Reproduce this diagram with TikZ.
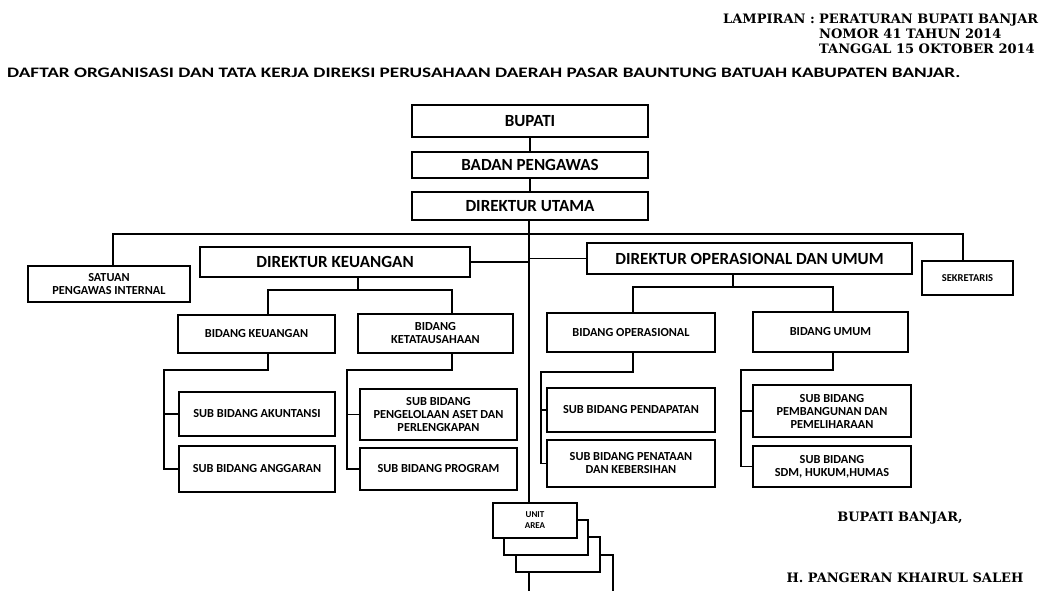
\documentclass[tikz,border=0pt]{standalone}
\usepackage{fontspec}
\setmainfont{Carlito}
\newfontfamily\hdfont{DejaVu Serif}
\usetikzlibrary{calc,positioning}

\begin{document}
\begin{tikzpicture}[x=1pt,y=-1pt]
          %% BAGAN ORGANISASI

          \tikzstyle{box}=[draw,line width=2.5pt,fill=white,align=center,inner sep=1pt,font=\bfseries\fontsize{12.3}{13}\selectfont]
          \tikzstyle{bigbox}=[box,font=\bfseries\fontsize{17}{18}\selectfont]
          \tikzstyle{unit}=[box,minimum width=84pt,minimum height=35pt,font=\bfseries\fontsize{9}{11}\selectfont]
          \tikzstyle{link}=[line width=1.3pt]
          \tikzstyle{hdr}=[inner sep=0pt,font=\hdfont\bfseries\fontsize{13}{15}\selectfont]

          \useasboundingbox (0,0) rectangle (1042,591);
          \clip (0,0) rectangle (1042,591);

          % kepala lampiran
          \node[hdr,anchor=base east] (LAM) at (815,24) {LAMPIRAN :};
          \node[hdr,anchor=base west] (H1) at (819,24) {PERATURAN BUPATI BANJAR};
          \node[hdr,anchor=base west] (H2) at (819,39) {NOMOR 41 TAHUN 2014};
          \node[hdr,anchor=base west] (H3) at (819,54) {TANGGAL 15 OKTOBER 2014};
          \node[anchor=base west,inner sep=0pt,font=\bfseries] (JUDUL) at (7,78)
              {\resizebox{953pt}{9.5pt}{DAFTAR ORGANISASI DAN TATA KERJA DIREKSI PERUSAHAAN DAERAH PASAR BAUNTUNG BATUAH KABUPATEN BANJAR.}};

          % pimpinan
          \node[bigbox,minimum width=236pt,minimum height=32pt] (BUP) at (530,121) {BUPATI};
          \node[bigbox,minimum width=236pt,minimum height=26pt] (BP) at (530,165) {BADAN PENGAWAS};
          \node[bigbox,minimum width=236pt,minimum height=28pt] (DU) at (530,206) {DIREKTUR UTAMA};

          % direktur
          \node[box,minimum width=162pt,minimum height=36pt] (SPI) at (109,284) {SATUAN\\PENGAWAS INTERNAL};
          \node[bigbox,minimum width=270pt,minimum height=30pt] (DK) at (335,262) {DIREKTUR KEUANGAN};
          \node[bigbox,minimum width=325pt,minimum height=31pt] (DO) at (749.5,258.5) {DIREKTUR OPERASIONAL DAN UMUM};
          \node[box,minimum width=91pt,minimum height=34pt,font=\bfseries\fontsize{10.5}{12}\selectfont] (SEK) at (967.5,278) {SEKRETARIS};

          % bidang
          \node[box,minimum width=157pt,minimum height=38pt] (BK) at (256.5,334) {BIDANG KEUANGAN};
          \node[box,minimum width=155pt,minimum height=39pt] (BT) at (435.5,333.5) {BIDANG\\KETATAUSAHAAN};
          \node[box,minimum width=168pt,minimum height=39pt] (BO) at (631,332.5) {BIDANG OPERASIONAL};
          \node[box,minimum width=155pt,minimum height=40pt] (BU) at (830.5,332) {BIDANG UMUM};

          % sub bidang
          \node[box,minimum width=156pt,minimum height=44pt] (SK1) at (257,414) {SUB BIDANG AKUNTANSI};
          \node[box,minimum width=156pt,minimum height=46pt] (SK2) at (257,469) {SUB BIDANG ANGGARAN};
          \node[box,minimum width=157pt,minimum height=51pt] (ST1) at (438.5,414.5) {SUB BIDANG\\PENGELOLAAN ASET DAN\\PERLENGKAPAN};
          \node[box,minimum width=157pt,minimum height=42pt] (ST2) at (438.5,469) {SUB BIDANG PROGRAM};
          \node[box,minimum width=168pt,minimum height=44pt] (SO1) at (631,410) {SUB BIDANG PENDAPATAN};
          \node[box,minimum width=168pt,minimum height=47pt] (SO2) at (631,463.5) {SUB BIDANG PENATAAN\\DAN KEBERSIHAN};
          \node[box,minimum width=158pt,minimum height=52pt] (SU1) at (832,411) {SUB BIDANG\\PEMBANGUNAN DAN\\PEMELIHARAAN};
          \node[box,minimum width=158pt,minimum height=41pt] (SU2) at (832,466.5) {SUB BIDANG\\SDM, HUKUM,HUMAS};

          % unit area
          \node[unit,minimum height=40pt] (UA4) at (571,575) {};
          \node[unit] (UA3) at (558,554.5) {};
          \node[unit] (UA2) at (546,537.5) {};
          \node[unit] (UA1) at (535,520.5) {UNIT\\AREA};

          % tanda tangan
          \node[hdr] (TTD1) at (900,518) {BUPATI BANJAR,};
          \node[hdr] (TTD2) at (905,578) {H. PANGERAN KHAIRUL SALEH};

          % garis
          \coordinate (T) at (529,234);
          \coordinate (BL) at (113,234);
          \coordinate (BR) at (963,234);
          \draw[link] (BUP.south) -- (BP.north);
          \draw[link] (BP.south) -- (DU.north);
          \draw[link] (T |- DU.south) -- (T |- UA1.north);
          \draw[link] (BL |- SPI.north) -- (BL) -- (BR) -- (BR |- SEK.north);
          \draw[link] (DK.east) -- (DK.east -| T);
          \draw[link] (DO.west) -- (DO.west -| T);

          % keuangan
          \coordinate (KJ) at (358,290);
          \coordinate (KA) at (268,290);
          \coordinate (KB) at (452,290);
          \draw[link] (KJ |- DK.south) -- (KJ);
          \draw[link] (KA |- BK.north) -- (KA) -- (KB) -- (KB |- BT.north);
          \coordinate (BKA) at (268,370);
          \coordinate (BKB) at (164,370);
          \draw[link] (BKA |- BK.south) -- (BKA) -- (BKB) |- (SK2.west);
          \draw[link] (BKB |- SK1.west) -- (SK1.west);
          \coordinate (BTA) at (452,370);
          \coordinate (BTB) at (347,370);
          \draw[link] (BTA |- BT.south) -- (BTA) -- (BTB) |- (ST2.west);
          \draw[link] (BTB |- ST1.west) -- (ST1.west);

          % operasional dan umum
          \coordinate (OJ) at (733,287);
          \coordinate (OA) at (633,287);
          \coordinate (OB) at (833,287);
          \draw[link] (OJ |- DO.south) -- (OJ);
          \draw[link] (OA |- BO.north) -- (OA) -- (OB) -- (OB |- BU.north);
          \coordinate (BOA) at (633,372);
          \coordinate (BOB) at (541,372);
          \draw[link] (BOA |- BO.south) -- (BOA) -- (BOB) |- (SO2.west);
          \draw[link] (BOB |- SO1.west) -- (SO1.west);
          \coordinate (BUA) at (833,370);
          \coordinate (BUB) at (741,370);
          \draw[link] (BUA |- BU.south) -- (BUA) -- (BUB) |- (SU2.west);
          \draw[link] (BUB |- SU1.west) -- (SU1.west);

\end{tikzpicture}
\end{document}
